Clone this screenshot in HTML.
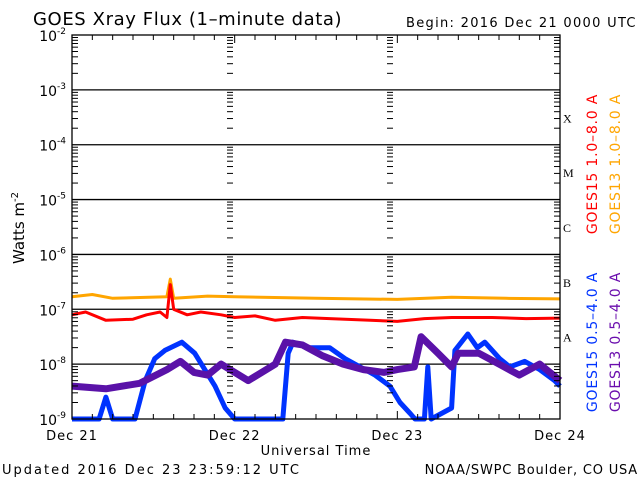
<!DOCTYPE html>
<html><head><meta charset="utf-8"><style>
html,body{margin:0;padding:0;background:#fff;}
svg{display:block;font-family:"DejaVu Sans","Liberation Sans",sans-serif;}
</style></head><body>
<svg id="chart" width="640" height="480" viewBox="0 0 640 480" xmlns="http://www.w3.org/2000/svg">
<rect width="640" height="480" fill="#fff"/>
<text x="33" y="25" font-size="18" letter-spacing="0.6" fill="#000">GOES Xray Flux (1–minute data)</text>
<text x="406" y="27" font-size="13" letter-spacing="1.3" fill="#000">Begin:  2016 Dec 21 0000 UTC</text>
<text transform="translate(24,228) rotate(-90)" text-anchor="middle" font-size="15" fill="#000">Watts m<tspan dy="-6" font-size="10">-2</tspan></text>
<text x="316" y="455" text-anchor="middle" font-size="13" letter-spacing="1" fill="#000">Universal Time</text>
<text x="2" y="474" font-size="13" letter-spacing="2" fill="#000">Updated 2016 Dec 23 23:59:12 UTC</text>
<text x="638" y="474" text-anchor="end" font-size="13" letter-spacing="0.8" fill="#000">NOAA/SWPC Boulder, CO USA</text>
<g id="grid"></g>
<g id="series"></g>
<g id="frame"></g>
<g id="legend">
<text transform="translate(597,164) rotate(-90)" text-anchor="middle" font-size="14" letter-spacing="0.8" fill="#ff0000">GOES15 1.0–8.0 A</text>
<text transform="translate(620,164) rotate(-90)" text-anchor="middle" font-size="14" letter-spacing="0.8" fill="#ffa500">GOES13 1.0–8.0 A</text>
<text transform="translate(597,342) rotate(-90)" text-anchor="middle" font-size="14" letter-spacing="0.8" fill="#0033ff">GOES15 0.5–4.0 A</text>
<text transform="translate(620,342) rotate(-90)" text-anchor="middle" font-size="14" letter-spacing="0.8" fill="#6a0dad">GOES13 0.5–4.0 A</text>
</g>
</svg>
<script>
const dayLabels = ["Dec 21","Dec 22","Dec 23","Dec 24"];
const decadeExps = [-2,-3,-4,-5,-6,-7,-8,-9];
const classLetters = ["X","M","C","B","A"];
const classLogs = [-3.5,-4.5,-5.5,-6.5,-7.5];
// hours since Dec 21 00 UTC, and log10 flux values
const g15LongT = [0,2,5,9,11,13,14,14.5,15,17,19,22,24,27,30,34,38,44,48,52,56,62,67,72];
const g15LongV = [-7.1,-7.05,-7.2,-7.18,-7.1,-7.05,-7.15,-6.55,-7.0,-7.1,-7.05,-7.1,-7.15,-7.12,-7.2,-7.15,-7.17,-7.2,-7.22,-7.17,-7.15,-7.15,-7.17,-7.16];
const g13LongT = [0,3,6,14,14.5,15,20,24,36,48,56,64,72];
const g13LongV = [-6.77,-6.73,-6.8,-6.77,-6.45,-6.8,-6.76,-6.77,-6.8,-6.82,-6.78,-6.8,-6.81];
const g15ShortT = [0,4,5,6,9.3,10.8,12.2,13.7,16.2,18.1,19.6,21.1,22.6,24,27,31.1,31.9,32.6,35.1,38,40.3,42.5,44.7,46.9,48.4,49.9,50.6,52,52.5,53,56,56.5,58.4,59.8,60.9,63.1,64.6,66.8,69,71.2,72];
const g15ShortV = [-9,-9,-8.6,-9,-9,-8.3,-7.9,-7.75,-7.6,-7.8,-8.1,-8.4,-8.8,-9,-9,-9,-7.8,-7.6,-7.7,-7.7,-7.9,-8.05,-8.2,-8.4,-8.7,-8.9,-9,-9,-8.05,-9,-8.8,-7.75,-7.45,-7.7,-7.6,-7.9,-8.05,-7.95,-8.1,-8.3,-8.4];
const g13ShortT = [0,5,10,14,16,18,20,22,24,26,28,30,31.5,34,37,40,43,46,48,50.5,51.5,54,56,57,60,63,66,69,72];
const g13ShortV = [-8.4,-8.45,-8.35,-8.1,-7.95,-8.15,-8.2,-8.0,-8.15,-8.3,-8.15,-8.0,-7.6,-7.65,-7.85,-8.0,-8.1,-8.15,-8.1,-8.05,-7.5,-7.8,-8.05,-7.8,-7.8,-8.0,-8.2,-8.0,-8.3];

const NS="http://www.w3.org/2000/svg";
const X0=72,X1=560,Y0=35,Y1=419;
const xScale=h=>X0+(X1-X0)*h/72;
const yScale=l=>Y0+(-2-Math.max(-9,Math.min(-2,l)))*(Y1-Y0)/7;
function mk(tag,attrs,parent){const e=document.createElementNS(NS,tag);for(const k in attrs)e.setAttribute(k,attrs[k]);parent.appendChild(e);return e;}
const grid=document.getElementById('grid'),frame=document.getElementById('frame'),series=document.getElementById('series');

decadeExps.forEach(d=>{
  const y=yScale(d);
  if(d<-2&&d>-9){const l=mk('line',{x1:X0,x2:X1,y1:y,y2:y,stroke:'#000','stroke-width':1.3},grid);
    
    }
  const t=mk('text',{x:X0-6,y:y+6,'text-anchor':'end','font-size':14,fill:'#000'},frame);
  
  
  t.textContent='10';
  const s=mk('tspan',{dy:-7,'font-size':9},t);s.textContent=String(d);
  if(d>-9){for(let m=2;m<=9;m++){const ym=yScale(d-1+Math.log10(m));
    [[X0,X0+6],[X1-6,X1],[X0+158-3,X0+158+3],[X0+318-3,X0+318+3]].forEach(p=>{mk('line',{x1:p[0],x2:p[1],y1:ym,y2:ym,stroke:'#000','stroke-width':1},frame);});}}
});
for(let h=0;h<=72;h+=3){const x=xScale(h);const len=(h%24===0)?8:5;
  mk('line',{x1:x,x2:x,y1:Y0,y2:Y0+len,stroke:'#000'},frame);
  mk('line',{x1:x,x2:x,y1:Y1,y2:Y1-len,stroke:'#000'},frame);}
dayLabels.forEach((lab,i)=>{const t=mk('text',{x:xScale(i*24),y:440,'text-anchor':'middle','font-size':13,'letter-spacing':1,fill:'#000'},frame);
  
  
  t.textContent=lab;});
classLetters.forEach((c,i)=>{const t=mk('text',{x:X1+3,y:yScale(classLogs[i])+5,'font-size':12,'font-family':'Liberation Serif, serif',fill:'#000'},frame);
  
  
  t.textContent=c;});
const border=mk('rect',{x:X0,y:Y0,width:X1-X0,height:Y1-Y0,fill:'none',stroke:'#000','stroke-width':1.3},frame);



function draw(T,V,color,w,name){
  const pts=T.map((h,i)=>xScale(h).toFixed(1)+','+yScale(V[i]).toFixed(1)).join(' ');
  const p=mk('polyline',{points:pts,fill:'none',stroke:color,'stroke-width':w,'stroke-linejoin':'round'},series);
  
  
}
draw(g15ShortT,g15ShortV,'#0033ff',5,'series-goes15-short');
draw(g13ShortT,g13ShortV,'#5a12a8',7,'series-goes13-short');
draw(g13LongT,g13LongV,'#ffa500',3,'series-goes13-long');
draw(g15LongT,g15LongV,'#ff0000',3,'series-goes15-long');
</script>
</body></html>
